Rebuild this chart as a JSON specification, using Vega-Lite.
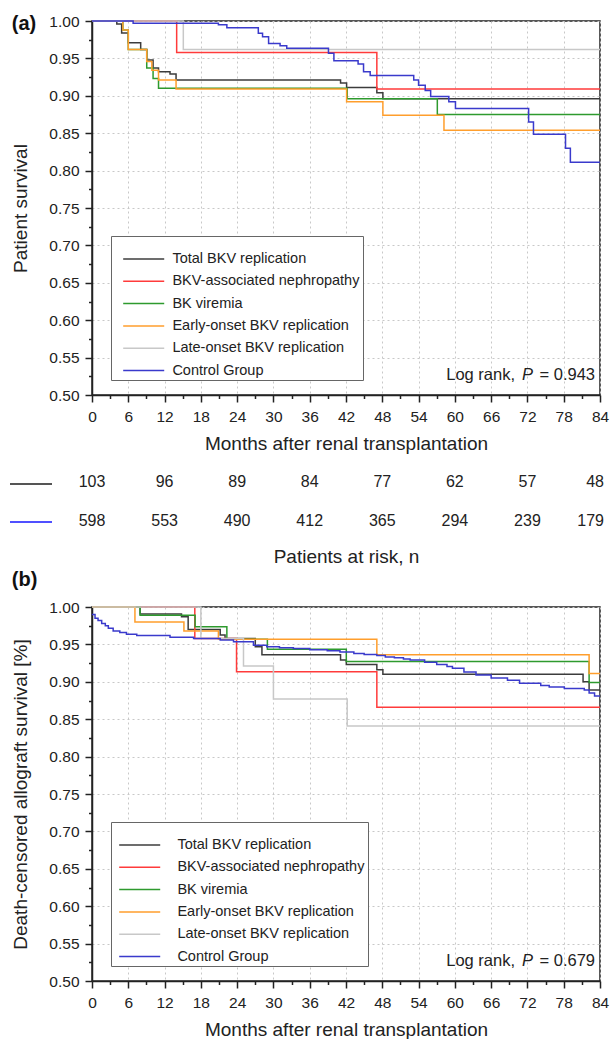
{
  "$schema": "https://vega.github.io/schema/vega-lite/v6.json",
  "padding": {"left": 9, "top": 13, "right": 8, "bottom": 0},
  "background": "white",
  "config": {
    "font": "Liberation Sans",
    "view": {"stroke": "#222", "strokeWidth": 1.5},
    "axis": {
      "domainColor": "#222", "domainWidth": 1.5, "tickColor": "#222", "tickWidth": 1.5,
      "labelColor": "#222", "titleColor": "#222", "labelFontSize": 15.5, "titleFontSize": 19,
      "titleFontWeight": "normal", "labelFont": "Liberation Sans", "titleFont": "Liberation Sans",
      "gridColor": "#c8c8c8", "gridDash": [2, 3], "gridWidth": 1, "labelOverlap": false, "labelFlush": false
    },
    "legend": {
      "orient": "none", "title": null, "symbolType": "stroke", "labelFont": "Liberation Sans",
      "labelColor": "#222", "labelLimit": 0
    },
    "title": {"font": "Liberation Sans", "color": "#111"}
  },
  "datasets": {
    "survA": [
      {"group": "Total BKV replication", "month": 0, "surv": 1},
      {"group": "Total BKV replication", "month": 4.1, "surv": 0.996},
      {"group": "Total BKV replication", "month": 4.9, "surv": 0.984},
      {"group": "Total BKV replication", "month": 6.0, "surv": 0.971},
      {"group": "Total BKV replication", "month": 8.05, "surv": 0.962},
      {"group": "Total BKV replication", "month": 9.05, "surv": 0.948},
      {"group": "Total BKV replication", "month": 10.1, "surv": 0.937},
      {"group": "Total BKV replication", "month": 11.0, "surv": 0.932},
      {"group": "Total BKV replication", "month": 12.9, "surv": 0.929},
      {"group": "Total BKV replication", "month": 13.9, "surv": 0.921},
      {"group": "Total BKV replication", "month": 41.1, "surv": 0.917},
      {"group": "Total BKV replication", "month": 42.1, "surv": 0.911},
      {"group": "Total BKV replication", "month": 47.1, "surv": 0.904},
      {"group": "Total BKV replication", "month": 48.1, "surv": 0.896},
      {"group": "Total BKV replication", "month": 84, "surv": 0.896},
      {"group": "BKV-associated nephropathy", "month": 0, "surv": 1},
      {"group": "BKV-associated nephropathy", "month": 14, "surv": 0.958},
      {"group": "BKV-associated nephropathy", "month": 47.1, "surv": 0.909},
      {"group": "BKV-associated nephropathy", "month": 84, "surv": 0.909},
      {"group": "BK viremia", "month": 0, "surv": 1},
      {"group": "BK viremia", "month": 5.1, "surv": 0.988},
      {"group": "BK viremia", "month": 6.0, "surv": 0.962},
      {"group": "BK viremia", "month": 9.05, "surv": 0.937},
      {"group": "BK viremia", "month": 10.1, "surv": 0.923},
      {"group": "BK viremia", "month": 11.0, "surv": 0.910},
      {"group": "BK viremia", "month": 42.2, "surv": 0.896},
      {"group": "BK viremia", "month": 57.1, "surv": 0.875},
      {"group": "BK viremia", "month": 84, "surv": 0.875},
      {"group": "Early-onset BKV replication", "month": 0, "surv": 1},
      {"group": "Early-onset BKV replication", "month": 5.1, "surv": 0.988},
      {"group": "Early-onset BKV replication", "month": 6.0, "surv": 0.962},
      {"group": "Early-onset BKV replication", "month": 9.05, "surv": 0.946},
      {"group": "Early-onset BKV replication", "month": 9.9, "surv": 0.934},
      {"group": "Early-onset BKV replication", "month": 11.0, "surv": 0.921},
      {"group": "Early-onset BKV replication", "month": 13.9, "surv": 0.909},
      {"group": "Early-onset BKV replication", "month": 42.1, "surv": 0.892},
      {"group": "Early-onset BKV replication", "month": 48.1, "surv": 0.874},
      {"group": "Early-onset BKV replication", "month": 58.2, "surv": 0.854},
      {"group": "Early-onset BKV replication", "month": 84, "surv": 0.854},
      {"group": "Late-onset BKV replication", "month": 0, "surv": 1},
      {"group": "Late-onset BKV replication", "month": 15.1, "surv": 0.962},
      {"group": "Late-onset BKV replication", "month": 84, "surv": 0.962},
      {"group": "Control Group", "month": 0, "surv": 1},
      {"group": "Control Group", "month": 6.8, "surv": 0.997},
      {"group": "Control Group", "month": 20.9, "surv": 0.995},
      {"group": "Control Group", "month": 22.3, "surv": 0.991},
      {"group": "Control Group", "month": 27.5, "surv": 0.9835},
      {"group": "Control Group", "month": 28.2, "surv": 0.979},
      {"group": "Control Group", "month": 29.2, "surv": 0.970},
      {"group": "Control Group", "month": 31.1, "surv": 0.967},
      {"group": "Control Group", "month": 32.2, "surv": 0.9635},
      {"group": "Control Group", "month": 39.1, "surv": 0.957},
      {"group": "Control Group", "month": 40.0, "surv": 0.947},
      {"group": "Control Group", "month": 44.0, "surv": 0.9425},
      {"group": "Control Group", "month": 44.9, "surv": 0.932},
      {"group": "Control Group", "month": 46.0, "surv": 0.927},
      {"group": "Control Group", "month": 53.2, "surv": 0.921},
      {"group": "Control Group", "month": 54.0, "surv": 0.914},
      {"group": "Control Group", "month": 55.1, "surv": 0.907},
      {"group": "Control Group", "month": 56.0, "surv": 0.899},
      {"group": "Control Group", "month": 59.0, "surv": 0.892},
      {"group": "Control Group", "month": 60.1, "surv": 0.883},
      {"group": "Control Group", "month": 72.2, "surv": 0.865},
      {"group": "Control Group", "month": 73.0, "surv": 0.8485},
      {"group": "Control Group", "month": 78.3, "surv": 0.830},
      {"group": "Control Group", "month": 79.1, "surv": 0.811},
      {"group": "Control Group", "month": 84, "surv": 0.811}
    ],
    "survB": [
      {"group": "Total BKV replication", "month": 0, "surv": 1},
      {"group": "Total BKV replication", "month": 7.95, "surv": 0.9906},
      {"group": "Total BKV replication", "month": 14.8, "surv": 0.987},
      {"group": "Total BKV replication", "month": 15.9, "surv": 0.970},
      {"group": "Total BKV replication", "month": 21.2, "surv": 0.9626},
      {"group": "Total BKV replication", "month": 22.0, "surv": 0.958},
      {"group": "Total BKV replication", "month": 27.0, "surv": 0.947},
      {"group": "Total BKV replication", "month": 28.1, "surv": 0.936},
      {"group": "Total BKV replication", "month": 41.1, "surv": 0.929},
      {"group": "Total BKV replication", "month": 42.05, "surv": 0.923},
      {"group": "Total BKV replication", "month": 47.1, "surv": 0.916},
      {"group": "Total BKV replication", "month": 48.1, "surv": 0.910},
      {"group": "Total BKV replication", "month": 81.2, "surv": 0.900},
      {"group": "Total BKV replication", "month": 82.2, "surv": 0.889},
      {"group": "Total BKV replication", "month": 84, "surv": 0.889},
      {"group": "BKV-associated nephropathy", "month": 0, "surv": 1},
      {"group": "BKV-associated nephropathy", "month": 17.0, "surv": 0.958},
      {"group": "BKV-associated nephropathy", "month": 23.9, "surv": 0.9135},
      {"group": "BKV-associated nephropathy", "month": 47.1, "surv": 0.866},
      {"group": "BKV-associated nephropathy", "month": 84, "surv": 0.866},
      {"group": "BK viremia", "month": 0, "surv": 1},
      {"group": "BK viremia", "month": 7.95, "surv": 0.989},
      {"group": "BK viremia", "month": 17.05, "surv": 0.9737},
      {"group": "BK viremia", "month": 22.3, "surv": 0.957},
      {"group": "BK viremia", "month": 29.0, "surv": 0.9435},
      {"group": "BK viremia", "month": 42.05, "surv": 0.927},
      {"group": "BK viremia", "month": 82.2, "surv": 0.899},
      {"group": "BK viremia", "month": 84, "surv": 0.899},
      {"group": "Early-onset BKV replication", "month": 0, "surv": 1},
      {"group": "Early-onset BKV replication", "month": 7.1, "surv": 0.980},
      {"group": "Early-onset BKV replication", "month": 15.2, "surv": 0.968},
      {"group": "Early-onset BKV replication", "month": 20.9, "surv": 0.957},
      {"group": "Early-onset BKV replication", "month": 47.1, "surv": 0.936},
      {"group": "Early-onset BKV replication", "month": 82.2, "surv": 0.911},
      {"group": "Early-onset BKV replication", "month": 84, "surv": 0.911},
      {"group": "Late-onset BKV replication", "month": 0, "surv": 1},
      {"group": "Late-onset BKV replication", "month": 18.0, "surv": 0.958},
      {"group": "Late-onset BKV replication", "month": 25.05, "surv": 0.921},
      {"group": "Late-onset BKV replication", "month": 30.0, "surv": 0.877},
      {"group": "Late-onset BKV replication", "month": 42.2, "surv": 0.841},
      {"group": "Late-onset BKV replication", "month": 84, "surv": 0.841},
      {"group": "Control Group", "month": 0, "surv": 0.99},
      {"group": "Control Group", "month": 0.5, "surv": 0.985},
      {"group": "Control Group", "month": 1.0, "surv": 0.982},
      {"group": "Control Group", "month": 1.6, "surv": 0.978},
      {"group": "Control Group", "month": 2.2, "surv": 0.975},
      {"group": "Control Group", "month": 2.7, "surv": 0.9715},
      {"group": "Control Group", "month": 3.5, "surv": 0.968},
      {"group": "Control Group", "month": 4.6, "surv": 0.966},
      {"group": "Control Group", "month": 5.7, "surv": 0.9635},
      {"group": "Control Group", "month": 7.4, "surv": 0.962},
      {"group": "Control Group", "month": 12.9, "surv": 0.9595},
      {"group": "Control Group", "month": 16.8, "surv": 0.958},
      {"group": "Control Group", "month": 21.2, "surv": 0.956},
      {"group": "Control Group", "month": 23.4, "surv": 0.9536},
      {"group": "Control Group", "month": 26.7, "surv": 0.949},
      {"group": "Control Group", "month": 28.9, "surv": 0.947},
      {"group": "Control Group", "month": 31.0, "surv": 0.9455},
      {"group": "Control Group", "month": 33.3, "surv": 0.9445},
      {"group": "Control Group", "month": 36.0, "surv": 0.943},
      {"group": "Control Group", "month": 38.9, "surv": 0.9415},
      {"group": "Control Group", "month": 41.0, "surv": 0.940},
      {"group": "Control Group", "month": 43.3, "surv": 0.938},
      {"group": "Control Group", "month": 45.0, "surv": 0.9365},
      {"group": "Control Group", "month": 47.1, "surv": 0.935},
      {"group": "Control Group", "month": 48.5, "surv": 0.933},
      {"group": "Control Group", "month": 50.0, "surv": 0.932},
      {"group": "Control Group", "month": 51.5, "surv": 0.9305},
      {"group": "Control Group", "month": 52.6, "surv": 0.929},
      {"group": "Control Group", "month": 55.0, "surv": 0.926},
      {"group": "Control Group", "month": 57.0, "surv": 0.923},
      {"group": "Control Group", "month": 58.7, "surv": 0.9205},
      {"group": "Control Group", "month": 59.6, "surv": 0.918},
      {"group": "Control Group", "month": 61.5, "surv": 0.913},
      {"group": "Control Group", "month": 63.5, "surv": 0.909},
      {"group": "Control Group", "month": 66.0, "surv": 0.905},
      {"group": "Control Group", "month": 68.7, "surv": 0.902},
      {"group": "Control Group", "month": 70.7, "surv": 0.898},
      {"group": "Control Group", "month": 74.2, "surv": 0.895},
      {"group": "Control Group", "month": 75.6, "surv": 0.893},
      {"group": "Control Group", "month": 78.1, "surv": 0.891},
      {"group": "Control Group", "month": 81.4, "surv": 0.889},
      {"group": "Control Group", "month": 82.2, "surv": 0.885},
      {"group": "Control Group", "month": 83.1, "surv": 0.881},
      {"group": "Control Group", "month": 84, "surv": 0.881}
    ],
    "risk": [
      {"series": "Total BKV replication", "month": 0, "n": 103},
      {"series": "Total BKV replication", "month": 12, "n": 96},
      {"series": "Total BKV replication", "month": 24, "n": 89},
      {"series": "Total BKV replication", "month": 36, "n": 84},
      {"series": "Total BKV replication", "month": 48, "n": 77},
      {"series": "Total BKV replication", "month": 60, "n": 62},
      {"series": "Total BKV replication", "month": 72, "n": 57},
      {"series": "Total BKV replication", "month": 84, "n": 48},
      {"series": "Control Group", "month": 0, "n": 598},
      {"series": "Control Group", "month": 12, "n": 553},
      {"series": "Control Group", "month": 24, "n": 490},
      {"series": "Control Group", "month": 36, "n": 412},
      {"series": "Control Group", "month": 48, "n": 365},
      {"series": "Control Group", "month": 60, "n": 294},
      {"series": "Control Group", "month": 72, "n": 239},
      {"series": "Control Group", "month": 84, "n": 179}
    ]
  },
  "spacing": 67,
  "bounds": "flush",
  "resolve": {"scale": {"color": "independent", "x": "independent", "y": "independent"}, "legend": {"color": "independent"}},
  "vconcat": [
    {
      "width": 508, "height": 374,
      "title": {"text": "(a)", "anchor": "start", "frame": "bounds", "fontSize": 20, "fontWeight": "bold", "offset": 0, "dy": 20},
      "resolve": {"axis": {"x": "independent", "y": "independent"}},
      "layer": [
        {
          "data": {"name": "survA"},
          "mark": {"type": "line", "interpolate": "step-after", "strokeWidth": 1.5},
          "encoding": {
            "x": {"field": "month", "type": "quantitative", "scale": {"domain": [0, 84], "nice": false},
              "axis": {"title": "Months after renal transplantation", "orient": "bottom", "values": [0,6,12,18,24,30,36,42,48,54,60,66,72,78,84],
                "tickSize": 7, "labelPadding": 7, "titlePadding": 10, "labelOverlap": false}},
            "y": {"field": "surv", "type": "quantitative", "scale": {"domain": [0.5, 1], "nice": false, "zero": false},
              "axis": {"title": "Patient survival", "orient": "left", "values": [0.5,0.55,0.6,0.65,0.7,0.75,0.8,0.85,0.9,0.95,1.0], "format": ".2f",
                "tickSize": 7, "labelPadding": 6, "titlePadding": 18, "labelOverlap": false}},
            "color": {"field": "group", "type": "nominal",
              "scale": {"domain": ["Total BKV replication", "BKV-associated nephropathy", "BK viremia", "Early-onset BKV replication", "Late-onset BKV replication", "Control Group"],
                "range": ["#3c3c3c", "#ff3b3b", "#2e9a2e", "#ff9e2c", "#c8c8c8", "#3a3acc"]},
              "legend": {"legendX": 19, "legendY": 215, "symbolType": "M-3,0H3", "symbolSize": 187, "symbolStrokeWidth": 1.5, "labelFontSize": 14.5,
                "title": "\u00a0", "titleFontSize": 6, "titlePadding": 6,
                "strokeColor": "#666", "fillColor": "white", "padding": 3, "symbolOffset": 21.7, "labelOffset": 20.7, "rowPadding": 7.3}}
          }
        },
        {
          "data": {"values": [{"t": "Log rank,"}]},
          "mark": {"type": "text", "align": "right", "baseline": "middle", "fontSize": 16.5, "dx": -85, "color": "#222"},
          "encoding": {"x": {"datum": 84, "type": "quantitative", "axis": null}, "y": {"datum": 0.527, "type": "quantitative", "axis": null}, "text": {"field": "t"}}
        },
        {
          "data": {"values": [{"t": "P"}]},
          "mark": {"type": "text", "align": "right", "baseline": "middle", "fontSize": 16.5, "fontStyle": "italic", "dx": -67, "color": "#222"},
          "encoding": {"x": {"datum": 84, "type": "quantitative", "axis": null}, "y": {"datum": 0.527, "type": "quantitative", "axis": null}, "text": {"field": "t"}}
        },
        {
          "data": {"values": [{"t": "= 0.943"}]},
          "mark": {"type": "text", "align": "right", "baseline": "middle", "fontSize": 16.5, "dx": -5, "color": "#222"},
          "encoding": {
            "x": {"datum": 84, "type": "quantitative",
              "axis": {"orient": "bottom", "values": [3,9,15,21,27,33,39,45,51,57,63,69,75,81], "tickSize": 3.5, "labels": false, "domain": false, "grid": false, "title": null}},
            "y": {"datum": 0.527, "type": "quantitative",
              "axis": {"orient": "left", "values": [0.525,0.575,0.625,0.675,0.725,0.775,0.825,0.875,0.925,0.975], "tickSize": 3.5, "labels": false, "domain": false, "grid": false, "title": null}},
            "text": {"field": "t"}}
        }
      ]
    },
    {
      "width": 508, "height": 78,
      "view": {"stroke": null},
      "data": {"name": "risk"},
      "layer": [
        {
          "transform": [{"filter": "datum.month < 84"}],
          "mark": {"type": "text", "fontSize": 16, "baseline": "middle", "color": "#222"},
          "encoding": {
            "x": {"field": "month", "type": "quantitative", "scale": {"domain": [0, 84], "nice": false},
              "axis": {"title": "Patients at risk, n", "labels": false, "ticks": false, "domain": false, "grid": false, "titlePadding": 7}},
            "y": {"field": "series", "type": "nominal", "scale": {"type": "point", "padding": 0.5, "domain": ["Total BKV replication", "Control Group"]}, "axis": null},
            "text": {"field": "n", "type": "quantitative"}
          }
        },
        {
          "transform": [{"filter": "datum.month == 84"}],
          "mark": {"type": "text", "fontSize": 16, "baseline": "middle", "align": "right", "dx": 4, "color": "#222"},
          "encoding": {
            "x": {"field": "month", "type": "quantitative"},
            "y": {"field": "series", "type": "nominal"},
            "text": {"field": "n", "type": "quantitative"}
          }
        },
        {
          "transform": [{"filter": "datum.month == 0"}],
          "mark": {"type": "line", "strokeWidth": 2},
          "encoding": {
            "x": {"field": "month", "type": "quantitative"},
            "y": {"field": "series", "type": "nominal"},
            "color": {"field": "series", "type": "nominal",
              "scale": {"domain": ["Total BKV replication", "Control Group"], "range": ["#555555", "#5050ff"]},
              "legend": {"legendX": -83, "legendY": 0, "symbolSize": 1764, "symbolStrokeWidth": 2, "labelExpr": "''", "labelFontSize": 1, "labelOffset": 0, "padding": 0, "rowPadding": 12}}
          }
        }
      ]
    },
    {
      "width": 508, "height": 374,
      "title": {"text": "(b)", "anchor": "start", "frame": "bounds", "fontSize": 20, "fontWeight": "bold", "offset": 0, "dy": -10},
      "resolve": {"axis": {"x": "independent", "y": "independent"}},
      "layer": [
        {
          "data": {"name": "survB"},
          "mark": {"type": "line", "interpolate": "step-after", "strokeWidth": 1.5},
          "encoding": {
            "x": {"field": "month", "type": "quantitative", "scale": {"domain": [0, 84], "nice": false},
              "axis": {"title": "Months after renal transplantation", "orient": "bottom", "values": [0,6,12,18,24,30,36,42,48,54,60,66,72,78,84],
                "tickSize": 7, "labelPadding": 7, "titlePadding": 10, "labelOverlap": false}},
            "y": {"field": "surv", "type": "quantitative", "scale": {"domain": [0.5, 1], "nice": false, "zero": false},
              "axis": {"title": "Death-censored allograft survival [%]", "orient": "left", "values": [0.5,0.55,0.6,0.65,0.7,0.75,0.8,0.85,0.9,0.95,1.0], "format": ".2f",
                "tickSize": 7, "labelPadding": 6, "titlePadding": 18, "labelOverlap": false}},
            "color": {"field": "group", "type": "nominal",
              "scale": {"domain": ["Total BKV replication", "BKV-associated nephropathy", "BK viremia", "Early-onset BKV replication", "Late-onset BKV replication", "Control Group"],
                "range": ["#3c3c3c", "#ff3b3b", "#2e9a2e", "#ff9e2c", "#c8c8c8", "#3a3acc"]},
              "legend": {"legendX": 19, "legendY": 215, "symbolType": "M-3,0H3", "symbolSize": 187, "symbolStrokeWidth": 1.5, "labelFontSize": 14.5,
                "title": "\u00a0", "titleFontSize": 6, "titlePadding": 6,
                "strokeColor": "#666", "fillColor": "white", "padding": 3, "symbolOffset": 17.7, "labelOffset": 29.7, "rowPadding": 7.3}}
          }
        },
        {
          "data": {"values": [{"t": "Log rank,"}]},
          "mark": {"type": "text", "align": "right", "baseline": "middle", "fontSize": 16.5, "dx": -85, "color": "#222"},
          "encoding": {"x": {"datum": 84, "type": "quantitative", "axis": null}, "y": {"datum": 0.527, "type": "quantitative", "axis": null}, "text": {"field": "t"}}
        },
        {
          "data": {"values": [{"t": "P"}]},
          "mark": {"type": "text", "align": "right", "baseline": "middle", "fontSize": 16.5, "fontStyle": "italic", "dx": -67, "color": "#222"},
          "encoding": {"x": {"datum": 84, "type": "quantitative", "axis": null}, "y": {"datum": 0.527, "type": "quantitative", "axis": null}, "text": {"field": "t"}}
        },
        {
          "data": {"values": [{"t": "= 0.679"}]},
          "mark": {"type": "text", "align": "right", "baseline": "middle", "fontSize": 16.5, "dx": -5, "color": "#222"},
          "encoding": {
            "x": {"datum": 84, "type": "quantitative",
              "axis": {"orient": "bottom", "values": [3,9,15,21,27,33,39,45,51,57,63,69,75,81], "tickSize": 3.5, "labels": false, "domain": false, "grid": false, "title": null}},
            "y": {"datum": 0.527, "type": "quantitative",
              "axis": {"orient": "left", "values": [0.525,0.575,0.625,0.675,0.725,0.775,0.825,0.875,0.925,0.975], "tickSize": 3.5, "labels": false, "domain": false, "grid": false, "title": null}},
            "text": {"field": "t"}}
        }
      ]
    }
  ]
}
